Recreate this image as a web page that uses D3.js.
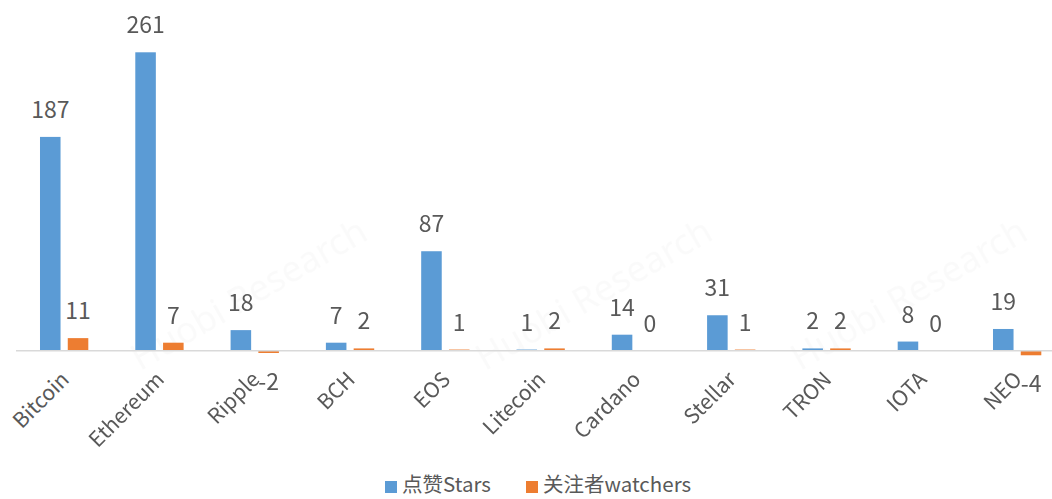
<!DOCTYPE html>
<html>
<head>
<meta charset="utf-8">
<script src="https://cdn.jsdelivr.net/npm/d3@7"></script>
<style>
	body { margin: 0; background: #fff; }
	svg { display: block; font-family: "Noto Sans CJK SC", "Noto Sans", sans-serif; }
</style>
</head>
<body>
<div id="viz"></div>
<script>
// categories and series values
const coins = ["Bitcoin", "Ethereum", "Ripple", "BCH", "EOS", "Litecoin", "Cardano", "Stellar", "TRON", "IOTA", "NEO"];
const stars = [187, 261, 18, 7, 87, 1, 14, 31, 2, 8, 19];
const watchers = [11, 7, -2, 2, 1, 2, 0, 1, 2, 0, -4];
const seriesNames = ["点赞Stars", "关注者watchers"];
const seriesColors = ["#5B9BD5", "#ED7D31"];

var width = 1052,
	height = 499;

var svg = d3
	.select("#viz")
	.append("svg")
	.attr("width", width)
	.attr("height", height);

// very faint watermark (only the ones that fit fully)
var wm = svg.append("g").attr("fill", "#000").attr("opacity", 0.022);
[[255, 305], [600, 305], [915, 305]].forEach((p) => {
	wm.append("text")
		.attr("transform", `translate(${p[0]},${p[1]}) rotate(-30)`)
		.attr("text-anchor", "middle")
		.attr("font-size", 36)
		.attr("font-family", "Noto Sans, sans-serif")
		.text("Huobi Research");
});

const data = coins.map((c, i) => ({ coin: c, values: [stars[i], watchers[i]] }));

// scales
const x0 = d3.scaleBand().domain(coins).range([16.5, 1064.8]).paddingInner(0.493).paddingOuter(0.2465);
const x1 = d3.scaleBand().domain([0, 1]).range([0, x0.bandwidth()]).paddingInner(0.26);
const y = d3.scaleLinear().domain([0, 261]).range([350.7, 52.3]);

// bars
var groups = svg
	.append("g")
	.selectAll("g")
	.data(data)
	.join("g")
	.attr("transform", (d) => `translate(${x0(d.coin)},0)`);

groups
	.selectAll("rect")
	.data((d) => d.values.map((v, k) => ({ v, k })))
	.join("rect")
	.attr("x", (d) => x1(d.k))
	.attr("y", (d) => y(Math.max(0, d.v)))
	.attr("height", (d) => Math.abs(y(d.v) - y(0)))
	.attr("width", x1.bandwidth())
	.attr("fill", (d) => seriesColors[d.k]);

// value labels
groups
	.selectAll("text")
	.data((d) => d.values.map((v, k) => ({ v, k })))
	.join("text")
	.attr("x", (d) => x1(d.k) + x1.bandwidth() / 2)
	.attr("y", (d) => (d.v < 0 ? y(d.v) + 37 : y(d.v) - 19))
	.attr("text-anchor", "middle")
	.attr("font-size", 23)
	.attr("fill", "#595959")
	.text((d) => d.v);

// x axis line
svg
	.append("line")
	.attr("x1", 16)
	.attr("x2", width)
	.attr("y1", y(0))
	.attr("y2", y(0))
	.attr("stroke", "#d9d9d9")
	.attr("stroke-width", 1.5);

// category labels
svg
	.append("g")
	.selectAll("text")
	.data(coins)
	.join("text")
	.attr("transform", (d) => `translate(${x0(d) + x0.bandwidth() / 2 - 5},${y(0) + 19}) rotate(-45)`)
	.attr("text-anchor", "end")
	.attr("dy", "0.75em")
	.attr("font-size", 21)
	.attr("fill", "#595959")
	.text((d) => d);

// legend
var legend = svg.append("g");
var lx = [385, 526];
seriesNames.forEach((name, k) => {
	legend
		.append("rect")
		.attr("x", lx[k])
		.attr("y", 481)
		.attr("width", 12)
		.attr("height", 12)
		.attr("fill", seriesColors[k]);
	legend
		.append("text")
		.attr("x", lx[k] + 17)
		.attr("y", 492)
		.attr("font-size", 20.5)
		.attr("fill", "#595959")
		.text(name);
});
</script>
</body>
</html>
